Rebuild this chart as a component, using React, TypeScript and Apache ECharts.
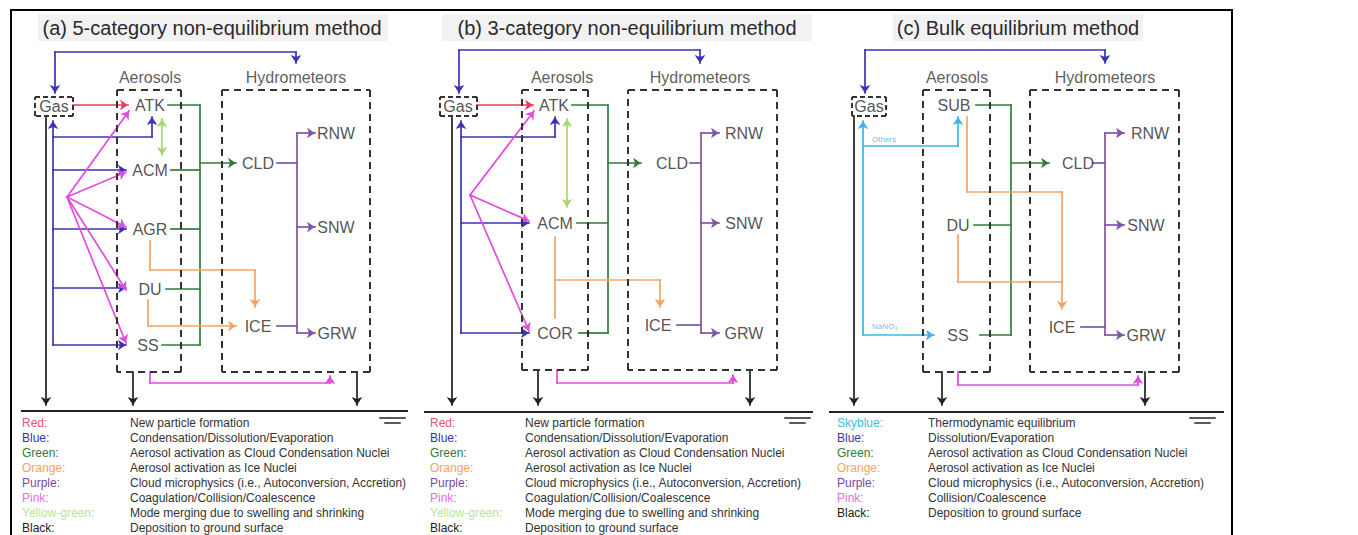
import React, { useEffect, useRef } from 'react';
import * as echarts from 'echarts';

const W = 1358;
const H = 535;
const FONT = '"Liberation Sans", Arial, Helvetica, sans-serif';

// ---------------- content ----------------
const titles = [
  '(a) 5-category non-equilibrium method',
  '(b) 3-category non-equilibrium method',
  '(c) Bulk equilibrium method',
];
const groupLabels = ['Aerosols', 'Hydrometeors'];
const gasLabel = 'Gas';
const aerosolsA = ['ATK', 'ACM', 'AGR', 'DU', 'SS'];
const aerosolsB = ['ATK', 'ACM', 'COR'];
const aerosolsC = ['SUB', 'DU', 'SS'];
const hydrometeors = ['CLD', 'ICE', 'RNW', 'SNW', 'GRW'];
const flowLabelsC = ['Others', 'NaNO\u2083'];

const legendKeysAB = ['Red:', 'Blue:', 'Green:', 'Orange:', 'Purple:', 'Pink:', 'Yellow-green:', 'Black:'];
const legendDescAB = [
  'New particle formation',
  'Condensation/Dissolution/Evaporation',
  'Aerosol activation as Cloud Condensation Nuclei',
  'Aerosol activation as Ice Nuclei',
  'Cloud microphysics (i.e., Autoconversion, Accretion)',
  'Coagulation/Collision/Coalescence',
  'Mode merging due to swelling and shrinking',
  'Deposition to ground surface',
];
const legendKeysC = ['Skyblue:', 'Blue:', 'Green:', 'Orange:', 'Purple:', 'Pink:', 'Black:'];
const legendDescC = [
  'Thermodynamic equilibrium',
  'Dissolution/Evaporation',
  'Aerosol activation as Cloud Condensation Nuclei',
  'Aerosol activation as Ice Nuclei',
  'Cloud microphysics (i.e., Autoconversion, Accretion)',
  'Collision/Coalescence',
  'Deposition to ground surface',
];

// ---------------- styles ----------------
const C: Record<string, string> = {
  red: '#ec3c5a',
  blue: '#3a32b8',
  green: '#2f7d3a',
  orange: '#f2a366',
  purple: '#8055a8',
  pink: '#e14be0',
  yg: '#a9d66e',
  sky: '#3fb4e4',
  black: '#222222',
  box: '#333333',
};
const legendColorsAB = ['#e8566a', '#3a32b8', '#2f7d3a', '#f2a366', '#7a48a8', '#e070e0', '#b6e69a', '#222222'];
const legendColorsC = ['#4ab8e8', '#3a32b8', '#2f7d3a', '#f2a366', '#7a48a8', '#e070e0', '#222222'];

// ---------------- layout (diagram pixel space) ----------------
type Pt = [number, number];
type Flow = { c: string; pts: Pt[]; s?: boolean; e?: boolean; w?: number };

const layoutA = {
  gasBox: [35, 97, 73, 116], gas: [54, 106] as Pt,
  aerBox: [117, 90, 181, 372], hydBox: [222, 90, 370, 372],
  aerLabel: [150, 77] as Pt, hydLabel: [296, 77] as Pt,
  aer: [[150, 105], [150, 170], [150, 229], [150, 289], [148, 345]] as Pt[],
  hyd: [[258, 163], [258, 326], [336, 133], [336, 227], [337, 333]] as Pt[],
};
const layoutB = {
  gasBox: [440, 97, 477, 116], gas: [458, 106] as Pt,
  aerBox: [522, 90, 588, 370], hydBox: [628, 90, 777, 370],
  aerLabel: [562, 77] as Pt, hydLabel: [700, 77] as Pt,
  aer: [[554, 105], [555, 223], [555, 333]] as Pt[],
  hyd: [[672, 163], [658, 325], [744, 133], [744, 223], [744, 333]] as Pt[],
};
const layoutC = {
  gasBox: [852, 97, 886, 116], gas: [869, 106] as Pt,
  aerBox: [923, 90, 990, 372], hydBox: [1030, 90, 1179, 372],
  aerLabel: [957, 77] as Pt, hydLabel: [1105, 77] as Pt,
  aer: [[954, 105], [958, 225], [958, 335]] as Pt[],
  hyd: [[1078, 163], [1062, 327], [1150, 133], [1146, 225], [1146, 335]] as Pt[],
};
const flowLabelPosC: Pt[] = [[871, 139], [871, 326]];

const flowsA: Flow[] = [
  { c: 'blue', pts: [[55, 93], [55, 52], [296, 52], [296, 63]], s: true, e: true },
  { c: 'blue', pts: [[53, 345], [53, 121]], e: true },
  { c: 'blue', pts: [[53, 137], [152, 137], [152, 117]], e: true },
  { c: 'blue', pts: [[53, 170], [126, 170]], e: true },
  { c: 'blue', pts: [[53, 229], [126, 229]], e: true },
  { c: 'blue', pts: [[53, 288], [126, 288]], e: true },
  { c: 'blue', pts: [[53, 345], [126, 345]], e: true },
  { c: 'red', pts: [[73, 105], [128, 105]], e: true },
  { c: 'pink', pts: [[67, 197], [129, 111]], e: true },
  { c: 'pink', pts: [[67, 197], [126, 172]], e: true },
  { c: 'pink', pts: [[67, 197], [126, 227]], e: true },
  { c: 'pink', pts: [[67, 197], [126, 290]], e: true },
  { c: 'pink', pts: [[67, 197], [126, 343]], e: true },
  { c: 'pink', pts: [[150, 372], [150, 383], [330, 383], [330, 376]], e: true },
  { c: 'yg', pts: [[162, 119], [162, 155]], s: true, e: true },
  { c: 'green', pts: [[168, 105], [200, 105]] },
  { c: 'green', pts: [[171, 170], [200, 170]] },
  { c: 'green', pts: [[171, 229], [200, 229]] },
  { c: 'green', pts: [[166, 289], [200, 289]] },
  { c: 'green', pts: [[162, 345], [200, 345]] },
  { c: 'green', pts: [[200, 105], [200, 345]] },
  { c: 'green', pts: [[200, 163], [236, 163]], e: true },
  { c: 'orange', pts: [[150, 241], [150, 270], [255, 270], [255, 307]], e: true },
  { c: 'orange', pts: [[148, 300], [148, 326], [236, 326]], e: true },
  { c: 'purple', pts: [[277, 163], [297, 163]] },
  { c: 'purple', pts: [[277, 326], [297, 326]] },
  { c: 'purple', pts: [[297, 133], [297, 333]] },
  { c: 'purple', pts: [[297, 133], [315, 133]], e: true },
  { c: 'purple', pts: [[297, 227], [315, 227]], e: true },
  { c: 'purple', pts: [[297, 333], [315, 333]], e: true },
  { c: 'black', pts: [[46, 116], [46, 405]], e: true },
  { c: 'black', pts: [[133, 372], [133, 405]], e: true },
  { c: 'black', pts: [[357, 372], [357, 405]], e: true },
  { c: 'black', pts: [[22, 411], [407, 411]], w: 2 },
  { c: 'black', pts: [[380, 418], [405, 418]], w: 1.5 },
  { c: 'black', pts: [[385, 423], [400, 423]], w: 1.5 },
];

const flowsB: Flow[] = [
  { c: 'blue', pts: [[459, 93], [459, 50], [700, 50], [700, 63]], s: true, e: true },
  { c: 'blue', pts: [[461, 333], [461, 121]], e: true },
  { c: 'blue', pts: [[461, 137], [555, 137], [555, 117]], e: true },
  { c: 'blue', pts: [[461, 223], [529, 223]], e: true },
  { c: 'blue', pts: [[461, 333], [529, 333]], e: true },
  { c: 'red', pts: [[477, 105], [533, 105]], e: true },
  { c: 'pink', pts: [[470, 195], [534, 111]], e: true },
  { c: 'pink', pts: [[470, 195], [529, 221]], e: true },
  { c: 'pink', pts: [[470, 195], [529, 331]], e: true },
  { c: 'pink', pts: [[557, 370], [557, 383], [733, 383], [733, 375]], e: true },
  { c: 'yg', pts: [[567, 119], [567, 207]], s: true, e: true },
  { c: 'green', pts: [[572, 105], [608, 105]] },
  { c: 'green', pts: [[577, 223], [608, 223]] },
  { c: 'green', pts: [[579, 333], [608, 333]] },
  { c: 'green', pts: [[608, 105], [608, 333]] },
  { c: 'green', pts: [[608, 163], [641, 163]], e: true },
  { c: 'orange', pts: [[555, 237], [555, 318]] },
  { c: 'orange', pts: [[555, 280], [660, 280], [660, 307]], e: true },
  { c: 'purple', pts: [[690, 163], [701, 163]] },
  { c: 'purple', pts: [[677, 325], [701, 325]] },
  { c: 'purple', pts: [[701, 133], [701, 333]] },
  { c: 'purple', pts: [[701, 133], [719, 133]], e: true },
  { c: 'purple', pts: [[701, 223], [719, 223]], e: true },
  { c: 'purple', pts: [[701, 333], [719, 333]], e: true },
  { c: 'black', pts: [[452, 116], [452, 405]], e: true },
  { c: 'black', pts: [[538, 370], [538, 405]], e: true },
  { c: 'black', pts: [[750, 370], [750, 405]], e: true },
  { c: 'black', pts: [[425, 412], [812, 412]], w: 2 },
  { c: 'black', pts: [[785, 418], [810, 418]], w: 1.5 },
  { c: 'black', pts: [[790, 423], [805, 423]], w: 1.5 },
];

const flowsC: Flow[] = [
  { c: 'blue', pts: [[865, 93], [865, 50], [1105, 50], [1105, 63]], s: true, e: true },
  { c: 'sky', pts: [[863, 335], [863, 121]], e: true },
  { c: 'sky', pts: [[863, 146], [958, 146], [958, 117]], e: true },
  { c: 'sky', pts: [[863, 335], [934, 335]], e: true },
  { c: 'green', pts: [[976, 105], [1011, 105]] },
  { c: 'green', pts: [[974, 225], [1011, 225]] },
  { c: 'green', pts: [[980, 335], [1011, 335]] },
  { c: 'green', pts: [[1011, 105], [1011, 335]] },
  { c: 'green', pts: [[1011, 163], [1049, 163]], e: true },
  { c: 'orange', pts: [[967, 117], [967, 192], [1062, 192], [1062, 309]], e: true },
  { c: 'orange', pts: [[958, 235], [958, 282], [1062, 282]] },
  { c: 'purple', pts: [[1093, 163], [1105, 163]] },
  { c: 'purple', pts: [[1081, 327], [1105, 327]] },
  { c: 'purple', pts: [[1105, 133], [1105, 335]] },
  { c: 'purple', pts: [[1105, 133], [1124, 133]], e: true },
  { c: 'purple', pts: [[1105, 225], [1124, 225]], e: true },
  { c: 'purple', pts: [[1105, 335], [1124, 335]], e: true },
  { c: 'pink', pts: [[958, 372], [958, 385], [1138, 385], [1138, 376]], e: true },
  { c: 'black', pts: [[854, 116], [854, 405]], e: true },
  { c: 'black', pts: [[942, 372], [942, 405]], e: true },
  { c: 'black', pts: [[1145, 372], [1145, 405]], e: true },
  { c: 'black', pts: [[830, 412], [1223, 412]], w: 2 },
  { c: 'black', pts: [[1190, 418], [1215, 418]], w: 1.5 },
  { c: 'black', pts: [[1195, 423], [1210, 423]], w: 1.5 },
];

const titleCenters = [212, 627, 1018];
const titleBg = [[38, 14, 388, 41], [442, 14, 812, 41], [893, 14, 1143, 41]];
const legendCols = [[22, 130], [430, 525], [837, 928]];
const legendY0 = 423;
const legendDY = 15;

// ---------------- option builders ----------------
function boxFlows(b: number[], dash: number[]) {
  const [x1, y1, x2, y2] = b;
  return { dash, pts: [[x1, y1], [x2, y1], [x2, y2], [x1, y2], [x1, y1]] as Pt[] };
}

function buildSeries() {
  const groups: Record<string, any> = {};
  const add = (color: string, a: Pt, b: Pt, sArrow: boolean, eArrow: boolean, width: number, dash: any) => {
    const key = `${color}|${sArrow}|${eArrow}|${width}|${dash ? dash.join('-') : 'solid'}`;
    if (!groups[key]) {
      groups[key] = {
        type: 'lines',
        coordinateSystem: 'cartesian2d',
        polyline: false,
        silent: true,
        symbol: [sArrow ? 'arrow' : 'none', eArrow ? 'arrow' : 'none'],
        symbolSize: 8,
        lineStyle: { color, width, type: dash || 'solid', opacity: 1, cap: dash ? 'butt' : 'square' },
        data: [],
        z: 3,
      };
    }
    groups[key].data.push({ coords: [a, b] });
  };
  const flows = [...flowsA, ...flowsB, ...flowsC];
  flows.forEach((f) => {
    const n = f.pts.length - 1;
    for (let i = 0; i < n; i++) {
      add(C[f.c], f.pts[i], f.pts[i + 1], !!f.s && i === 0, !!f.e && i === n - 1, f.w || 1.7, null);
    }
  });
  [layoutA, layoutB, layoutC].forEach((L) => {
    [boxFlows(L.aerBox, [7, 5]), boxFlows(L.hydBox, [7, 5]), boxFlows(L.gasBox, [5, 3])].forEach((bx) => {
      for (let i = 0; i < bx.pts.length - 1; i++) add(C.box, bx.pts[i], bx.pts[i + 1], false, false, 2, bx.dash);
    });
  });
  return Object.values(groups);
}

function labelSeries(data: any[], fontSize: number, color: string, align = 'center') {
  return {
    type: 'scatter',
    silent: true,
    symbol: 'circle',
    symbolSize: 2,
    itemStyle: { color: 'rgba(255,255,255,0)' },
    z: 5,
    label: {
      show: true,
      position: align === 'center' ? 'inside' : 'right',
      distance: 0,
      formatter: '{b}',
      fontSize,
      color,
      fontFamily: FONT,
      align,
      verticalAlign: 'middle',
    },
    data,
  };
}

function buildOption() {
  const layouts = [layoutA, layoutB, layoutC];
  const aerNames = [aerosolsA, aerosolsB, aerosolsC];
  const nodeData: any[] = [];
  const groupData: any[] = [];
  layouts.forEach((L, p) => {
    nodeData.push({ name: gasLabel, value: L.gas });
    aerNames[p].forEach((n, i) => nodeData.push({ name: n, value: L.aer[i] }));
    hydrometeors.forEach((n, i) => nodeData.push({ name: n, value: L.hyd[i] }));
    groupData.push({ name: groupLabels[0], value: L.aerLabel });
    groupData.push({ name: groupLabels[1], value: L.hydLabel });
  });
  const smallData = flowLabelsC.map((n, i) => ({ name: n, value: flowLabelPosC[i] }));

  const graphic: any[] = [];
  titleBg.forEach((b) =>
    graphic.push({
      type: 'rect', z: -10, silent: true,
      shape: { x: b[0], y: b[1], width: b[2] - b[0], height: b[3] - b[1] },
      style: { fill: '#f2f2f2' },
    })
  );
  titles.forEach((t, i) =>
    graphic.push({
      type: 'text', silent: true, z: 10,
      x: titleCenters[i], y: 28,
      style: { text: t, fill: '#2a2a2a', fontSize: 20, fontFamily: FONT, align: 'center', verticalAlign: 'middle' },
    })
  );
  const legends = [
    [legendKeysAB, legendDescAB, legendColorsAB],
    [legendKeysAB, legendDescAB, legendColorsAB],
    [legendKeysC, legendDescC, legendColorsC],
  ];
  legends.forEach(([keys, desc, cols]: any, p) => {
    keys.forEach((k: string, i: number) => {
      const y = legendY0 + legendDY * i;
      graphic.push({
        type: 'text', silent: true, z: 10, x: legendCols[p][0], y,
        style: { text: k, fill: cols[i], fontSize: 12, fontFamily: FONT, align: 'left', verticalAlign: 'middle' },
      });
      graphic.push({
        type: 'text', silent: true, z: 10, x: legendCols[p][1], y,
        style: { text: desc[i], fill: '#333333', fontSize: 12, fontFamily: FONT, align: 'left', verticalAlign: 'middle' },
      });
    });
  });
  graphic.push({
    type: 'rect', silent: true, z: 20,
    shape: { x: 11, y: 10, width: 1221, height: 540 },
    style: { fill: 'none', stroke: '#000', lineWidth: 2 },
  });

  return {
    animation: false,
    backgroundColor: '#ffffff',
    grid: { left: 0, right: 0, top: 0, bottom: 0, containLabel: false },
    xAxis: { type: 'value', min: 0, max: W, show: false },
    yAxis: { type: 'value', min: 0, max: H, inverse: true, show: false },
    series: [
      ...buildSeries(),
      labelSeries(nodeData, 16, '#262626'),
      labelSeries(groupData, 16, '#333333'),
      labelSeries(smallData, 8, C.sky, 'left'),
    ],
    graphic,
  };
}

export default function App() {
  const ref = useRef<HTMLDivElement>(null);
  useEffect(() => {
    if (!ref.current) return;
    const chart = echarts.init(ref.current, undefined, { renderer: 'svg' });
    chart.setOption(buildOption() as any);
    return () => chart.dispose();
  }, []);
  return (
    <div
      ref={ref}
      style={{ position: 'absolute', left: 0, top: 0, width: W, height: H, background: '#fff' }}
    />
  );
}
